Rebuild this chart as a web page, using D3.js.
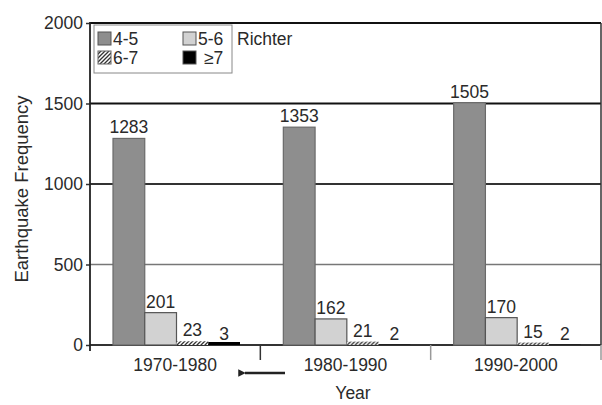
<html>
<script src='https://d3js.org/d3.v7.min.js'></script>
<style>
  body { margin: 0; background: #fff; }
  text { font-family: 'Liberation Sans', Arial, sans-serif; fill: #2a2a2a; }
</style>
<body onload='init()'>
<svg width=602 height=405></svg>
<script>

const decades = ['1970-1980', '1980-1990', '1990-2000'];
const classes = ['4-5', '5-6', '6-7', '≥7'];
const mag45 = [1283, 1353, 1505];
const mag56 = [201, 162, 170];
const mag67 = [23, 21, 15];
const mag7 = [3, 2, 2];
const yTicks = [0, 500, 1000, 1500, 2000];

function init() {
	var svg = d3.select('svg');
	var left = 90, right = 601, top = 23, bottom = 345;
	var fs = '17.5px';

	var defs = svg.append('defs');
	var pat = defs.append('pattern').attr('id', 'hatch')
		.attr('patternUnits', 'userSpaceOnUse').attr('width', 4).attr('height', 4);
	pat.append('rect').attr('width', 4).attr('height', 4).attr('fill', '#fff');
	pat.append('path').attr('d', 'M-1,5 L5,-1 M3,5 L5,3 M-1,1 L1,-1')
		.attr('stroke', '#333').attr('stroke-width', 1.3);

	var fills = ['#8e8e8e', '#d2d2d2', 'url(#hatch)', '#000'];
	var strokes = ['#6a6a6a', '#555', 'none', 'none'];

	var y = d3.scaleLinear().domain([0, 2000]).range([bottom, top]);
	var x0 = d3.scaleBand().domain(decades).range([left, right]);
	var x1 = d3.scaleBand().domain(classes).range([23, 150]);

	// grid lines
	svg.append('g').selectAll('line')
		.data(yTicks.filter(d => d > 0))
		.enter().append('line')
		.attr('x1', left).attr('x2', right)
		.attr('y1', d => y(d)).attr('y2', d => y(d))
		.attr('stroke', d => d == 500 ? '#777' : (d == 1000 ? '#333' : '#111'))
		.attr('stroke-width', d => d == 500 ? 1.3 : 2);

	// right frame
	svg.append('line').attr('x1', right).attr('x2', right)
		.attr('y1', y(2000)).attr('y2', y(0)).attr('stroke', '#333').attr('stroke-width', 1.5);

	// x axis baseline
	svg.append('line').attr('x1', left).attr('x2', right)
		.attr('y1', y(0)).attr('y2', y(0)).attr('stroke', '#333').attr('stroke-width', 2);

	// bars
	var rows = decades.map((d, i) => ({ decade: d, values: [mag45[i], mag56[i], mag67[i], mag7[i]] }));
	var groups = svg.append('g').selectAll('g')
		.data(rows).enter().append('g')
		.attr('transform', d => 'translate(' + x0(d.decade) + ',0)');

	var barH = d => Math.max(y(0) - y(d.v), d.j == 3 && d.v > 2 ? 3 : 0);
	groups.selectAll('rect')
		.data(d => d.values.map((v, j) => ({ cls: classes[j], v: v, j: j })))
		.enter().append('rect')
		.attr('x', d => x1(d.cls))
		.attr('width', x1.bandwidth())
		.attr('y', d => y(0) - barH(d))
		.attr('height', barH)
		.attr('fill', d => fills[d.j])
		.attr('stroke', d => strokes[d.j])
		.attr('stroke-width', 1.2);

	groups.selectAll('text')
		.data(d => d.values.map((v, j) => ({ cls: classes[j], v: v, j: j })))
		.enter().append('text')
		.attr('x', d => x1(d.cls) + x1.bandwidth() / 2)
		.attr('y', d => y(d.v) - 5)
		.attr('text-anchor', 'middle')
		.style('font-size', fs)
		.text(d => d.v);

	// y axis
	var yAxis = d3.axisLeft(y).tickValues(yTicks).tickFormat(d3.format('d'))
		.tickSize(4).tickPadding(3).tickSizeOuter(0);
	var ga = svg.append('g').attr('transform', 'translate(' + left + ',0)').call(yAxis);
	ga.select('.domain').remove();
	ga.selectAll('line').attr('stroke', '#333').attr('stroke-width', 1.5);
	ga.selectAll('text').style('font-size', fs).style('font-family', "'Liberation Sans', Arial, sans-serif").attr('fill', '#2a2a2a');
	svg.append('line').attr('x1', left).attr('x2', left)
		.attr('y1', y(2000) - 1).attr('y2', y(0) + 6).attr('stroke', '#222').attr('stroke-width', 1.8);

	// x ticks between decades
	svg.append('g').selectAll('line')
		.data(decades.slice(1).map(d => x0(d)).concat([right]))
		.enter().append('line')
		.attr('x1', d => d).attr('x2', d => d)
		.attr('y1', y(0)).attr('y2', y(0) + 15)
		.attr('stroke', (d, i) => i == 0 ? '#333' : '#999').attr('stroke-width', 1.5);
	svg.append('g').selectAll('text')
		.data(decades).enter().append('text')
		.attr('x', d => x0(d) + x0.bandwidth() / 2)
		.attr('y', 371)
		.attr('text-anchor', 'middle')
		.style('font-size', fs)
		.text(d => d);

	// arrow
	defs.append('marker').attr('id', 'arr').attr('viewBox', '0 0 10 10')
		.attr('refX', 1).attr('refY', 5).attr('markerWidth', 4).attr('markerHeight', 3)
		.attr('orient', 'auto-start-reverse')
		.append('path').attr('d', 'M0,5 L10,0 L10,10 Z').attr('fill', '#222');
	svg.append('line').attr('x1', 285).attr('x2', 245).attr('y1', 373).attr('y2', 373)
		.attr('stroke', '#222').attr('stroke-width', 2.5).attr('marker-end', 'url(#arr)');

	// titles
	svg.append('text').attr('x', 353).attr('y', 399).attr('text-anchor', 'middle')
		.style('font-size', fs).text('Year');
	svg.append('text').attr('transform', 'translate(28,189) rotate(-90)')
		.attr('text-anchor', 'middle').style('font-size', '18.5px').text('Earthquake Frequency');

	// legend
	var lg = svg.append('g');
	lg.append('rect').attr('x', 94).attr('y', 25).attr('width', 138).attr('height', 48)
		.attr('fill', '#fff').attr('stroke', '#888').attr('stroke-width', 1);
	var lx = [98, 183, 98, 183], ly = [32, 32, 51, 51];
	var items = lg.selectAll('g.item').data(classes).enter().append('g').attr('class', 'item');
	items.append('rect')
		.attr('x', (d, i) => lx[i]).attr('y', (d, i) => ly[i])
		.attr('width', 13).attr('height', 13)
		.attr('fill', (d, i) => fills[i])
		.attr('stroke', (d, i) => i == 2 ? '#666' : '#555').attr('stroke-width', 1);
	items.append('text')
		.attr('x', (d, i) => lx[i] + (i == 3 ? 21 : 15)).attr('y', (d, i) => ly[i] + 13)
		.style('font-size', fs)
		.text(d => d);
	lg.append('text').attr('x', 237).attr('y', 45).style('font-size', fs).text('Richter');
}

</script>
</body>
</html>
